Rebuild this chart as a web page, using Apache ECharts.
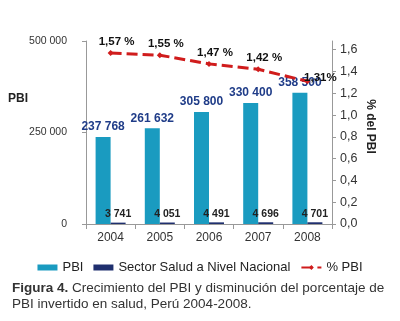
<!DOCTYPE html>
<html>
<head>
<meta charset="utf-8">
<script src="https://cdn.jsdelivr.net/npm/echarts@6/dist/echarts.min.js"></script>
<style>
  html, body { margin: 0; padding: 0; background: #fff; }
  #main { width: 400px; height: 321px; }
</style>
</head>
<body>
<div id="main"></div>
<script>
var years = ['2004', '2005', '2006', '2007', '2008'];
var pbi = [237768, 261632, 305800, 330400, 358500];
var salud = [3741, 4051, 4491, 4696, 4701];
var pctPbi = [1.57, 1.55, 1.47, 1.42, 1.31];
var pctLabels = ['1,57 %', '1,55 %', '1,47 %', '1,42 %', '1,31%'];

var font = 'Liberation Sans, Arial, sans-serif';

function miles(v) {
    return String(v).replace(/\B(?=(\d{3})+(?!\d))/g, ' ');
}

var myChart = echarts.init(document.getElementById('main'));

// ultimo punto con etiqueta desplazada a la derecha
var pctData = pctPbi.map(function (v, i) {
    if (i === pctPbi.length - 1) {
        return { value: v, label: { offset: [13, 8] } };
    }
    return v;
});

var option = {
    textStyle: { fontFamily: font },
    animation: false,
    title: {
        left: 12,
        top: 280,
        padding: 0,
        text: '{b|Figura 4.} Crecimiento del PBI y disminución del porcentaje de\nPBI invertido en salud, Perú 2004-2008.',
        textStyle: {
            fontFamily: font,
            fontSize: 13.5,
            fontWeight: 'normal',
            color: '#333',
            lineHeight: 16,
            rich: {
                b: { fontFamily: font, fontSize: 13.5, fontWeight: 'bold', color: '#333' }
            }
        }
    },
    legend: {
        top: 256,
        left: 'center',
        itemGap: 10,
        itemWidth: 20,
        itemHeight: 6,
        textStyle: { fontFamily: font, fontSize: 13, color: '#222' },
        data: [
            { name: 'PBI', icon: 'rect' },
            { name: 'Sector Salud a Nivel Nacional', icon: 'rect' },
            { name: '% PBI' }
        ]
    },
    grid: { left: 86, right: 68, top: 41, bottom: 97 },
    xAxis: {
        type: 'category',
        data: years,
        axisLine: { lineStyle: { color: '#999' } },
        axisTick: { show: true, length: 5, lineStyle: { color: '#999' } },
        axisLabel: { color: '#333', fontSize: 12, margin: 8, fontFamily: font }
    },
    yAxis: [
        {
            type: 'value',
            min: 0,
            max: 500000,
            interval: 250000,
            name: 'PBI',
            nameLocation: 'middle',
            nameRotate: 0,
            nameGap: 58,
            nameMoveOverlap: false,
            nameTextStyle: {
                fontWeight: 'bold', fontSize: 12, color: '#222', fontFamily: font,
                verticalAlign: 'bottom', padding: [0, 0, 28, 0]
            },
            splitLine: { show: false },
            axisLine: { show: true, lineStyle: { color: '#999' } },
            axisTick: { show: true, length: 4, lineStyle: { color: '#999' } },
            axisLabel: { color: '#333', fontSize: 10.5, margin: 19, formatter: miles, fontFamily: font }
        },
        {
            type: 'value',
            min: 0,
            max: 1.68,
            interval: 0.2,
            name: '% del PBI',
            nameLocation: 'middle',
            nameRotate: -90,
            nameGap: 32,
            nameMoveOverlap: false,
            nameTextStyle: { fontWeight: 'bold', fontSize: 12, color: '#222', fontFamily: font, padding: [0, 12, 0, 0] },
            splitLine: { show: false },
            axisLine: { show: true, lineStyle: { color: '#999' } },
            axisTick: { show: true, length: 4, lineStyle: { color: '#999' } },
            axisLabel: {
                color: '#333', fontSize: 12.5, margin: 8, fontFamily: font,
                showMaxLabel: false,
                formatter: function (v) { return v.toFixed(1).replace('.', ','); }
            }
        }
    ],
    series: [
        {
            name: 'PBI',
            type: 'bar',
            data: pbi,
            barWidth: 15,
            barGap: '0%',
            itemStyle: { color: '#1a9bc0' },
            label: {
                show: true,
                position: 'top',
                distance: 4,
                color: '#1f3c88',
                fontWeight: 'bold',
                fontSize: 12,
                fontFamily: font,
                formatter: function (p) { return miles(p.value); }
            }
        },
        {
            name: 'Sector Salud a Nivel Nacional',
            type: 'bar',
            data: salud,
            barWidth: 15,
            barGap: '0%',
            itemStyle: { color: '#1f2f6e' },
            label: {
                show: true,
                position: 'top',
                distance: 3,
                color: '#222',
                fontWeight: 'bold',
                fontSize: 10.5,
                fontFamily: font,
                formatter: function (p) { return miles(p.value); }
            }
        },
        {
            name: '% PBI',
            type: 'line',
            yAxisIndex: 1,
            data: pctData,
            symbol: 'diamond',
            symbolSize: 6,
            lineStyle: { color: '#d01c1c', width: 3, type: [11, 5] },
            itemStyle: { color: '#d01c1c' },
            label: {
                show: true,
                position: 'top',
                distance: 2,
                offset: [6, 0],
                color: '#111',
                fontWeight: 'bold',
                fontSize: 11.5,
                fontFamily: font,
                formatter: function (p) { return pctLabels[p.dataIndex]; }
            }
        }
    ]
};

myChart.setOption(option);
</script>
</body>
</html>
